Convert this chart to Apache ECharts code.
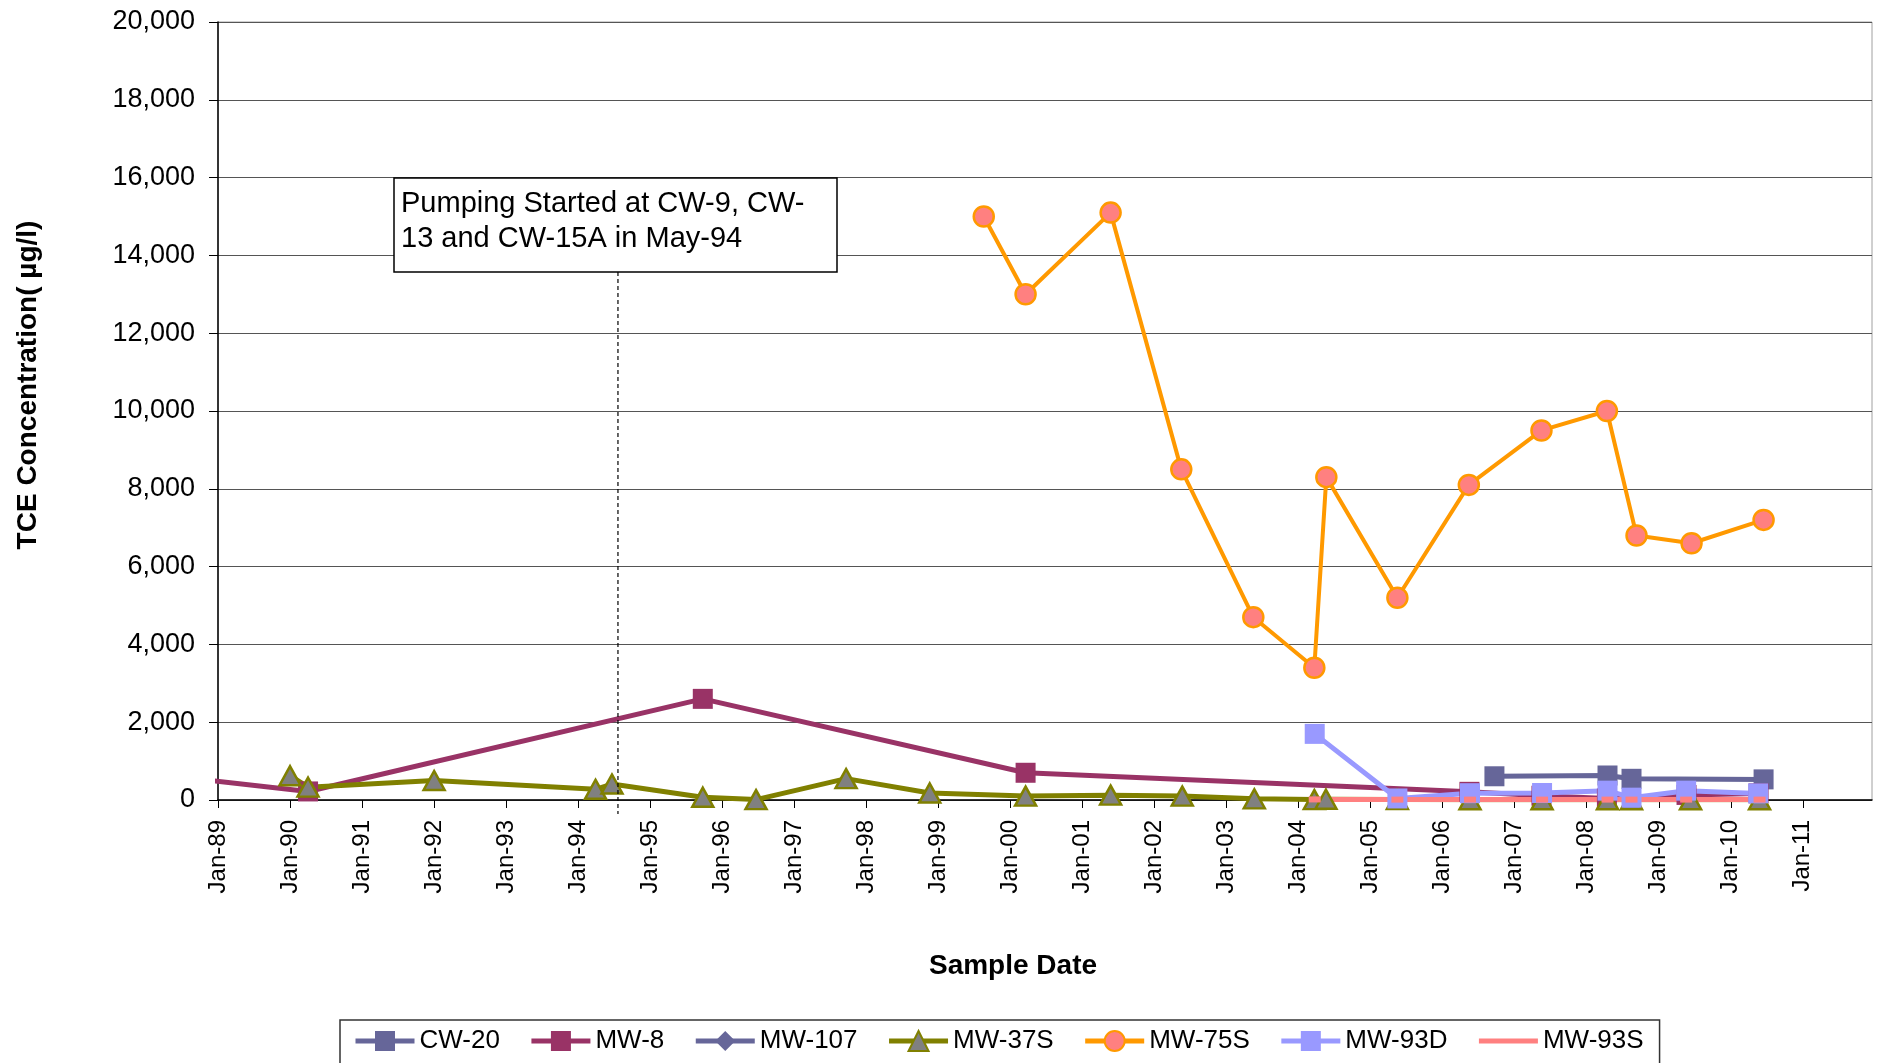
<!DOCTYPE html>
<html>
<head>
<meta charset="utf-8">
<title>TCE Concentration</title>
<script src="https://cdn.jsdelivr.net/npm/echarts@6/dist/echarts.min.js"></script>
<style>
  html, body { margin: 0; padding: 0; background: #fff; }
  #chart { width: 1889px; height: 1063px; }
</style>
</head>
<body>
<div id="chart"></div>
<script>
// x tick years (labels shown as Jan-yy)
const xTickYears = [1989, 1990, 1991, 1992, 1993, 1994, 1995, 1996, 1997, 1998, 1999,
  2000, 2001, 2002, 2003, 2004, 2005, 2006, 2007, 2008, 2009, 2010, 2011]

// sample dates and TCE values (ug/l) per well
const cw20Dates = ['2006-09-20', '2008-04-15', '2008-08-15', '2010-06-15']
const cw20Values = [610, 630, 545, 530]

const mw8Dates = ['1988-07-01', '1990-04-01', '1995-09-24', '2000-03-17', '2006-05-15',
  '2007-05-15', '2008-04-12', '2009-05-20', '2010-05-20']
const mw8Values = [580, 220, 2600, 700, 210, 110, 40, 130, 170]

const mw107Dates = []
const mw107Values = []

const mw37sDates = ['1990-01-01', '1990-04-01', '1992-01-01', '1994-03-28', '1994-06-20',
  '1995-09-24', '1996-06-20', '1997-09-20', '1998-11-18', '2000-03-17', '2001-05-22',
  '2002-05-20', '2003-05-20', '2004-03-20', '2004-05-18', '2005-05-15', '2006-05-18',
  '2007-05-18', '2008-04-15', '2008-08-15', '2009-06-10', '2010-05-25']
const mw37sValues = [625, 330, 500, 275, 410, 70, 10, 550, 180, 100, 125,
  100, 30, 10, 20, 10, 5, 5, 5, 5, 5, 5]

const mw75sDates = ['1999-08-18', '2000-03-17', '2001-05-22', '2002-05-15', '2003-05-15',
  '2004-03-20', '2004-05-20', '2005-05-15', '2006-05-12', '2007-05-15', '2008-04-12',
  '2008-09-10', '2009-06-15', '2010-06-15']
const mw75sValues = [15000, 13000, 15100, 8500, 4700, 3400, 8300, 5200, 8100, 9500, 10000,
  6800, 6600, 7200]

const mw93dDates = ['2004-03-22', '2005-05-15', '2006-05-18', '2007-05-18', '2008-04-15',
  '2008-08-15', '2009-05-18', '2010-05-18']
const mw93dValues = [1700, 40, 175, 180, 240, 60, 240, 170]

const mw93sDates = ['2004-03-22', '2005-05-15', '2006-05-18', '2007-05-18', '2008-04-15',
  '2008-08-15', '2009-05-18', '2010-05-25']
const mw93sValues = [15, 10, 10, 10, 10, 10, 10, 10]

// pumping start annotation
const pumpDate = '1994-07-20'
const pumpText = 'Pumping Started at CW-9, CW-\n13 and CW-15A in May-94'

const FONT = '"Liberation Sans", Arial, sans-serif'

// date string -> decimal year
function toYear(s) {
  const p = s.split('-').map(Number)
  return p[0] + (p[1] - 1) / 12 + (p[2] - 1) / 365
}
function pairs(dates, values) {
  return dates.map((d, i) => [toYear(d), values[i]])
}

function lineSeries(name, dates, values, color, width, symbol, size, itemStyle) {
  return {
    name: name,
    type: 'line',
    data: pairs(dates, values),
    symbol: symbol,
    symbolSize: size,
    showAllSymbol: true,
    lineStyle: { color: color, width: width },
    itemStyle: itemStyle || { color: color },
    emphasis: { disabled: true },
  }
}

let chart = echarts.init(document.getElementById('chart'))
chart.setOption({
  animation: false,
  backgroundColor: '#fff',
  textStyle: { fontFamily: FONT },
  grid: {
    left: 218,
    right: 17,
    top: 22,
    bottom: 263,
    show: true,
    borderColor: '#a0a0a0',
    borderWidth: 1,
  },
  xAxis: {
    type: 'value',
    min: 1989,
    max: 2011.96,
    interval: 1,
    axisLine: { show: true, onZero: false, lineStyle: { color: '#000', width: 1.5 } },
    axisTick: { show: true, length: 8, customValues: xTickYears, lineStyle: { color: '#000' } },
    axisLabel: {
      customValues: xTickYears,
      rotate: 90,
      margin: 20,
      fontSize: 24,
      color: '#000',
      fontFamily: FONT,
      formatter: v => 'Jan-' + String(Math.round(v) % 100).padStart(2, '0'),
    },
    splitLine: { show: false },
  },
  yAxis: {
    type: 'value',
    min: 0,
    max: 20000,
    interval: 2000,
    axisLine: { show: true, lineStyle: { color: '#000', width: 1.5 } },
    axisTick: { show: true, length: 9, lineStyle: { color: '#000' } },
    axisLabel: {
      margin: 23,
      fontSize: 27,
      color: '#000',
      fontFamily: FONT,
      formatter: v => v.toLocaleString('en-US'),
    },
    splitLine: { show: true, lineStyle: { color: '#555', width: 1.2 } },
  },
  legend: {
    left: 340,
    top: 1020,
    padding: [8, 16, 14, 13],
    itemWidth: 59,
    itemHeight: 25,
    itemGap: 29,
    borderColor: '#333',
    borderWidth: 1.5,
    lineStyle: { width: 5 },
    textStyle: { fontSize: 26, color: '#000', fontFamily: FONT },
    data: ['CW-20', 'MW-8', 'MW-107', 'MW-37S', 'MW-75S', 'MW-93D',
      { name: 'MW-93S', itemStyle: { color: 'rgba(0,0,0,0)', borderWidth: 0, opacity: 0 } }],
  },
  series: [
    lineSeries('CW-20', cw20Dates, cw20Values, '#666699', 5, 'rect', 20),
    lineSeries('MW-8', mw8Dates, mw8Values, '#993366', 5, 'rect', 20),
    lineSeries('MW-107', mw107Dates, mw107Values, '#666699', 5, 'diamond', 20),
    lineSeries('MW-37S', mw37sDates, mw37sValues, '#808000', 5, 'triangle', [21, 19],
      { color: '#808080', borderColor: '#808000', borderWidth: 2.5 }),
    lineSeries('MW-75S', mw75sDates, mw75sValues, '#FF9900', 4, 'circle', 20,
      { color: '#FF8080', borderColor: '#FF9900', borderWidth: 2.5 }),
    lineSeries('MW-93D', mw93dDates, mw93dValues, '#9999FF', 5, 'rect', 20),
    lineSeries('MW-93S', mw93sDates, mw93sValues, '#FF8080', 5, 'rect', [12, 6]),
  ],
})

// annotation: text box, dashed line at pumping start, axis titles
const px = chart.convertToPixel({ xAxisIndex: 0 }, toYear(pumpDate))
chart.setOption({
  graphic: [
    {
      type: 'line',
      z: 100,
      shape: { x1: px, y1: 272, x2: px, y2: 814 },
      style: { stroke: '#000', lineWidth: 1.2, lineDash: [4, 3] },
    },
    {
      type: 'rect',
      z: 100,
      shape: { x: 394, y: 178, width: 443, height: 94 },
      style: { fill: '#fff', stroke: '#000', lineWidth: 1.5 },
    },
    {
      type: 'text',
      z: 101,
      x: 401,
      y: 186,
      style: { text: pumpText, font: '29px ' + FONT, fill: '#000', lineHeight: 35 },
    },
    {
      type: 'text',
      x: 28,
      y: 385,
      rotation: Math.PI / 2,
      style: {
        text: 'TCE Concentration( \u00b5g/l)',
        font: 'bold 28px ' + FONT,
        fill: '#000',
        align: 'center',
        verticalAlign: 'middle',
      },
    },
    {
      type: 'text',
      x: 1013,
      y: 966,
      style: {
        text: 'Sample Date',
        font: 'bold 28px ' + FONT,
        fill: '#000',
        align: 'center',
        verticalAlign: 'middle',
      },
    },
  ],
})
</script>
</body>
</html>
